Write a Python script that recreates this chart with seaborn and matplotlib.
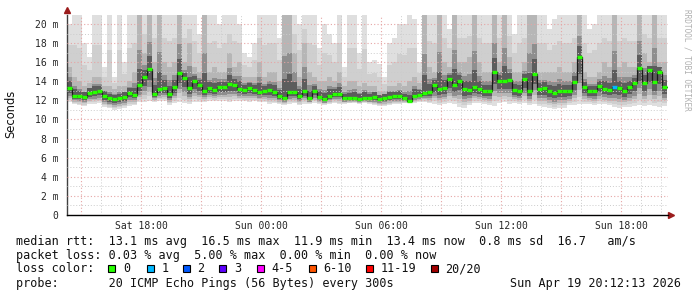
import numpy as np
import pandas as pd
import matplotlib
matplotlib.use("Agg")
import matplotlib.pyplot as plt
import matplotlib.dates as mdates
from matplotlib.patches import Rectangle
import seaborn as sns

# ---------------- data ----------------
start = "2026-04-18 14:18"
step_minutes = 15
median_ms = [
    13.3, 12.5, 12.45, 12.35, 12.8, 12.9, 13.0, 12.5, 12.2, 12.1, 12.2, 12.35, 12.8, 12.6, 13.6, 14.4, 15.3, 12.7, 13.2, 13.3,
    12.7, 13.4, 14.9, 14.3, 13.3, 14.0, 13.6, 13.0, 13.3, 13.1, 13.4, 13.4, 13.7, 13.6, 13.2, 13.1, 13.3, 13.1, 12.9, 13.0,
    13.1, 12.9, 12.5, 12.3, 12.9, 12.9, 12.5, 13.0, 12.2, 13.0, 12.4, 12.1, 12.5, 12.7, 12.7, 12.2, 12.2, 12.3, 12.1, 12.3,
    12.2, 12.35, 12.15, 12.3, 12.4, 12.45, 12.45, 12.2, 11.9, 12.5, 12.6, 12.8, 12.9, 13.6, 13.2, 13.3, 14.2, 13.6, 14.0, 13.2,
    13.1, 13.4, 13.2, 13.0, 13.0, 15.0, 14.0, 14.0, 14.1, 13.1, 13.0, 14.2, 13.0, 14.8, 13.2, 13.3, 13.0, 12.8, 13.0, 13.0,
    13.0, 13.9, 16.5, 13.4, 13.0, 13.0, 13.5, 13.2, 13.1, 13.4, 13.3, 13.0, 13.4, 13.8, 15.4, 13.8, 15.2, 13.9, 15.0, 13.4,
]
smoke_max_ms = [
    20, 21, 21, 18, 16.5, 21, 21, 15.5, 21, 14.5, 21, 16, 21, 21, 21, 21, 21, 21, 18, 21,
    21, 21, 21, 21, 21, 21, 19, 21, 21, 21, 20, 21, 21, 21, 20, 17, 16.5, 18, 21, 21,
    21, 21, 18.5, 21, 21, 21, 20, 21, 21, 21, 17.5, 20, 19, 18, 21, 15.5, 21, 21, 17, 21,
    16, 16.2, 15.8, 14.5, 18, 18.5, 20, 20, 21, 20.5, 16, 21, 21, 21, 21, 21, 19.5, 21, 21, 21,
    21, 21, 21, 21, 21, 21, 21, 21, 21, 19, 21, 21, 21, 21, 21, 21, 19.5, 20.5, 21, 21,
    21, 21, 21, 21, 19.5, 20, 21, 21, 21, 21, 21, 21, 21, 21, 21, 21, 21, 21, 21, 21,
]
smoke_mid_ms = [
    15.5, 14.5, 14, 13.5, 13.8, 14.5, 14.5, 13.5, 13.5, 13.2, 13.5, 13.5, 14, 15, 21, 17, 21, 16, 21, 16,
    15.5, 16, 21, 16, 18, 15.5, 15, 21, 15, 15.5, 15, 15, 17, 15.5, 16, 14.5, 14.5, 14.5, 16, 14.5,
    15, 15, 14, 21, 21, 17, 14.5, 18, 15, 14.5, 14, 14, 14.5, 14, 15, 13.5, 14, 14, 13.5, 13.8,
    13.5, 13.5, 13, 13, 13.5, 13.5, 13.8, 13.5, 14, 14.5, 13.8, 21, 15.5, 15, 21, 16, 15.5, 21, 16, 16,
    16.5, 21, 16, 15, 15, 21, 16, 21, 16.5, 15, 15, 16, 21, 21, 15, 15, 15, 15, 15.5, 15,
    15, 16, 21, 15, 14.5, 14.5, 15, 16, 15.5, 21, 15.5, 16, 15.5, 15.5, 21, 17, 16, 21, 16, 16,
]
smoke_min_ms = [
    11.8, 11.6, 11.5, 11.4, 11.6, 11.6, 11.7, 11.3, 11.2, 11.0, 11.1, 11.2, 11.4, 11.5, 11.8, 11.8, 11.9, 11.8, 11.9, 11.9,
    11.5, 11.7, 11.8, 11.7, 11.6, 11.8, 11.8, 11.8, 11.9, 11.9, 11.9, 11.9, 11.8, 11.9, 11.9, 11.9, 11.8, 11.9, 11.8, 11.8,
    11.6, 11.7, 11.6, 11.5, 11.6, 11.7, 11.5, 11.6, 11.6, 11.7, 11.6, 11.5, 11.6, 11.7, 11.6, 11.6, 11.7, 11.7, 11.6, 11.7,
    11.6, 11.5, 11.4, 11.4, 11.5, 11.6, 11.6, 11.7, 11.7, 11.7, 11.8, 11.8, 11.7, 11.6, 11.5, 11.6, 11.7, 11.6, 11.3, 11.2,
    11.5, 11.7, 11.7, 11.6, 11.5, 11.4, 11.7, 11.8, 11.6, 11.7, 11.6, 11.7, 11.5, 11.6, 11.4, 11.3, 11.2, 11.1, 11.2, 11.2,
    11.5, 11.5, 11.6, 11.6, 11.6, 11.5, 11.6, 11.6, 11.5, 11.3, 11.2, 11.3, 11.3, 11.4, 11.5, 11.4, 11.5, 11.4, 11.3, 11.4,
]
lost_pings = [0] * 109 + [1] + [0] * 10

y_ticks = [0, 2, 4, 6, 8, 10, 12, 14, 16, 18, 20]
y_ticklabels = ["0", "2 m", "4 m", "6 m", "8 m", "10 m", "12 m", "14 m", "16 m", "18 m", "20 m"]

loss_labels = ["0", "1", "2", "3", "4-5", "6-10", "11-19", "20/20"]
loss_colors = ["#26ff00", "#00b8ff", "#0059ff", "#5e00ff", "#ff00ff", "#ff5500", "#ff0000", "#a10000"]

stats_line1 = "median rtt:  13.1 ms avg  16.5 ms max  11.9 ms min  13.4 ms now  0.8 ms sd  16.7   am/s"
stats_line2 = "packet loss: 0.03 % avg  5.00 % max  0.00 % min  0.00 % now"
probe_line = "probe:       20 ICMP Echo Pings (56 Bytes) every 300s"
stamp = "Sun Apr 19 20:12:13 2026"

# ---------------- figure ----------------
sns.set_style("white")
plt.rcParams["font.family"] = ["DejaVu Sans"]
W, H = 697, 297
fig = plt.figure(figsize=(W / 100, H / 100), dpi=100)
fig.patch.set_facecolor("white")
ax = fig.add_axes([67 / W, 1 - 215 / H, (668 - 67) / W, (215 - 15) / H])
ax.set_facecolor("white")

edges = pd.date_range(start, periods=len(median_ms) + 1, freq=f"{step_minutes}min")
med = np.array(median_ms)
hi = np.array(smoke_max_ms)
mid = np.array(smoke_mid_ms)
lo = np.array(smoke_min_ms)

def ext(a):
    return np.append(a, a[-1])

# smoke layers (distribution of the 20 pings), light outside -> dark near the median
layers = [
    (lo, hi, "#dfdfdf"),
    (lo + 0.15 * (med - lo), mid + 0.5 * (hi - mid), "#cfcfcf"),
    (lo + 0.3 * (med - lo), mid, "#b6b6b6"),
    (med - 0.55 * (med - lo), med + 0.5 * (mid - med), "#8e8e8e"),
    (med - 0.35 * (med - lo), med + 0.2 * (mid - med) + 0.25, "#5c5c5c"),
]
for k, (a, b, c) in enumerate(layers):
    ax.fill_between(edges, ext(a), ext(b), step="post", color=c, lw=0, zorder=1 + 0.1 * k)

# median line
df = pd.DataFrame({"time": list(edges), "median": list(ext(med))})
sns.lineplot(data=df, x="time", y="median", estimator=None, drawstyle="steps-post",
             color="#1a1a1a", lw=0.9, ax=ax, zorder=4)
seg_colors = [loss_colors[min(n, 7)] for n in lost_pings]
ax.hlines(med, edges[:-1], edges[1:], colors=seg_colors, lw=2.4, zorder=5)

# axes
ax.set_xlim(pd.Timestamp(start), pd.Timestamp("2026-04-19 20:21"))
ax.set_ylim(0, 20.94)
ax.set_yticks(y_ticks)
ax.set_yticklabels(y_ticklabels)
ax.yaxis.set_minor_locator(matplotlib.ticker.MultipleLocator(1))
ax.xaxis.set_major_locator(mdates.HourLocator(byhour=range(0, 24, 3)))
ax.xaxis.set_minor_locator(mdates.HourLocator())

def fmt(x, pos):
    d = mdates.num2date(x)
    return d.strftime("%a %H:%M") if d.hour % 6 == 0 else ""

ax.xaxis.set_major_formatter(matplotlib.ticker.FuncFormatter(fmt))
ax.set_xlabel("")
ax.set_ylabel("")

ax.set_axisbelow(False)
ax.grid(which="major", color="#e6a5a5", linestyle=(0, (1, 2)), lw=0.8, zorder=2.5)
ax.grid(which="minor", color="#cccccc", linestyle=(0, (1, 2)), lw=0.7, zorder=2.4)

for s in ["top", "right"]:
    ax.spines[s].set_visible(False)
ax.spines["left"].set_color("#404040")
ax.spines["left"].set_linewidth(1.0)
ax.spines["bottom"].set_color("#000000")
ax.spines["bottom"].set_linewidth(1.0)
ax.tick_params(axis="both", which="major", length=3, width=0.8, color="#404040",
               direction="out", labelsize=7, pad=3)
ax.tick_params(axis="both", which="minor", length=0)
ax.tick_params(axis="x", pad=1.5)
for lab in ax.get_xticklabels() + ax.get_yticklabels():
    lab.set_fontfamily("DejaVu Sans Mono")

# arrows
ax.plot([0], [1.025], marker="^", color="#9b1c1c", markersize=4, transform=ax.transAxes, clip_on=False)
ax.plot([1.005], [0], marker=">", color="#9b1c1c", markersize=4, transform=ax.transAxes, clip_on=False)

# texts
def fx(x):
    return x / W

def fy(y):
    return 1 - y / H

fig.text(fx(10.5), fy(114), "Seconds", rotation=90, ha="center", va="center", fontsize=8.3, color="#111111")
fig.text(fx(687), fy(60), "RRDTOOL / TOBI OETIKER", rotation=270, ha="center", va="center",
         fontsize=5.6, color="#b0b0b0", family="DejaVu Sans Mono")

mono = dict(family="DejaVu Sans Mono", fontsize=8.5, color="#111111", va="center", ha="left")
fig.text(fx(16), fy(241), stats_line1, **mono)
fig.text(fx(16), fy(255), stats_line2, **mono)
fig.text(fx(16), fy(269), "loss color:", **mono)
fig.text(fx(16), fy(283), probe_line, **mono)
fig.text(fx(681), fy(283), stamp, **{**mono, "ha": "right"})

box_x = [108.3, 146.7, 182.7, 219.3, 256.7, 309.0, 366.0, 430.7]
for bx, lab, col in zip(box_x, loss_labels, loss_colors):
    fig.add_artist(Rectangle((fx(bx), fy(272)), 7 / W, 7 / H, transform=fig.transFigure,
                             facecolor=col, edgecolor="black", lw=0.8))
    fig.text(fx(bx + 14.5), fy(269), lab, **mono)

fig.savefig("out.png", dpi=100, facecolor="white")
